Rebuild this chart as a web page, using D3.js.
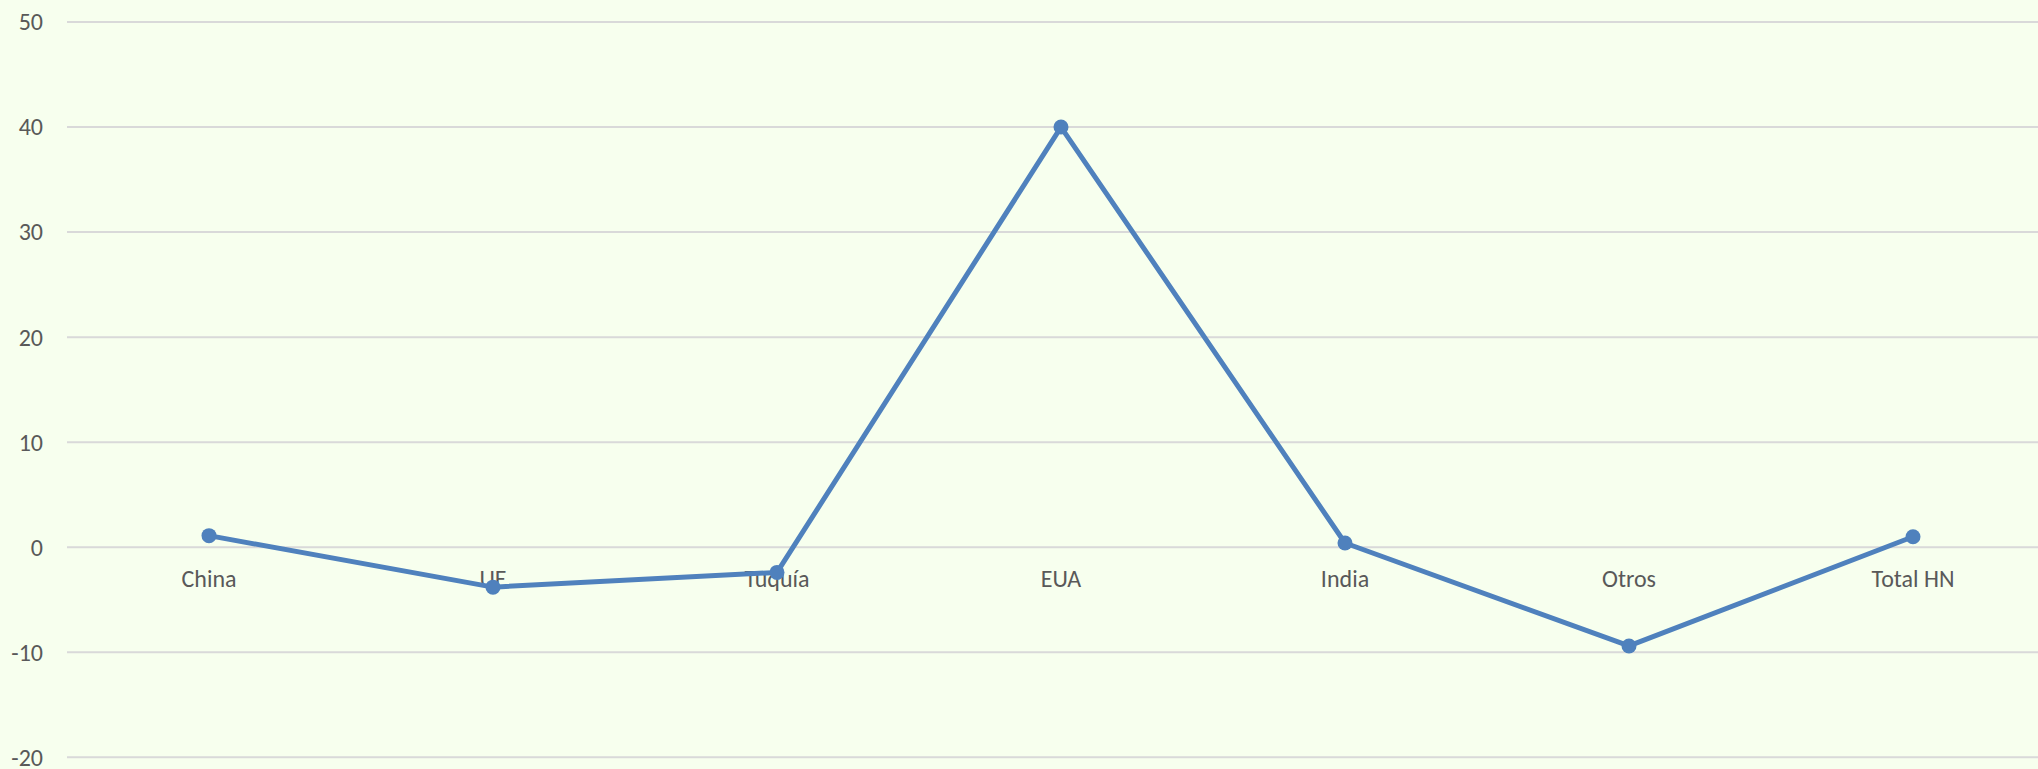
<!DOCTYPE html>
<html><head><meta charset="utf-8">
<script src="https://cdn.jsdelivr.net/npm/d3@7"></script>
<style>html,body{margin:0;padding:0;background:#F7FFEE;}svg{display:block;}</style>
</head><body>
<svg id="chart" width="2038" height="769"></svg>
<script>
const categories = ["China", "UE", "Tuquía", "EUA", "India", "Otros", "Total HN"];
const values = [1.1, -3.8, -2.4, 40.0, 0.4, -9.4, 1.0];
const yTicks = [-20, -10, 0, 10, 20, 30, 40, 50];

const svg = d3.select("#chart");
const W = 2038, H = 769;
svg.append("rect").attr("width", W).attr("height", H).attr("fill", "#F7FFEE");

const x = d3.scaleBand().domain(categories).range([67, 2055]).padding(0);
const y = d3.scaleLinear().domain([-20, 50]).range([757.3, 22]);
const font = "Calibri, Carlito, 'Open Sans', sans-serif";

// gridlines
svg.append("g").selectAll("line").data(yTicks).join("line")
  .attr("x1", 67).attr("x2", W)
  .attr("y1", d => y(d)).attr("y2", d => y(d))
  .attr("stroke", "#D9D9D9").attr("stroke-width", 2);

// y labels
svg.append("g").selectAll("text").data(yTicks).join("text")
  .attr("x", 43).attr("y", d => y(d)).attr("dy", "0.35em")
  .attr("text-anchor", "end")
  .attr("font-family", font).attr("font-size", 24)
  .attr("fill", "#595959").text(d => d);

// category labels
svg.append("g").selectAll("text").data(categories).join("text")
  .attr("x", d => x(d) + x.bandwidth() / 2).attr("y", y(0) + 40)
  .attr("text-anchor", "middle")
  .attr("font-family", font).attr("font-size", 24)
  .attr("fill", "#595959").text(d => d);

const pts = categories.map((c, i) => ({c, v: values[i]}));
const line = d3.line().x(d => x(d.c) + x.bandwidth() / 2).y(d => y(d.v));
svg.append("path").datum(pts).attr("d", line)
  .attr("fill", "none").attr("stroke", "#4F81BD").attr("stroke-width", 5)
  .attr("stroke-linejoin", "round").attr("stroke-linecap", "round");
svg.append("g").selectAll("circle").data(pts).join("circle")
  .attr("cx", d => x(d.c) + x.bandwidth() / 2).attr("cy", d => y(d.v))
  .attr("r", 7.5).attr("fill", "#4F81BD");
</script>
</body></html>
